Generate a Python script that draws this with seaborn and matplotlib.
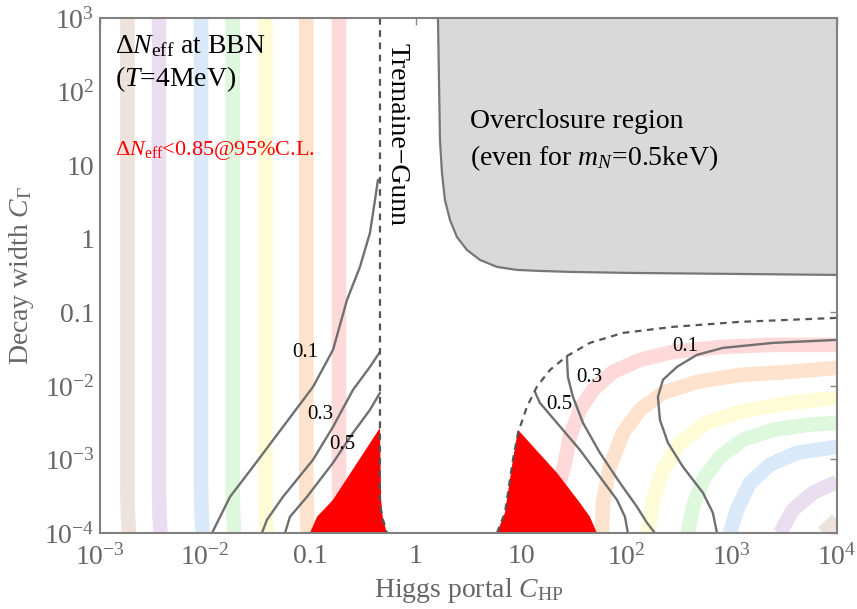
import numpy as np
import pandas as pd
import matplotlib
matplotlib.use("Agg")
import matplotlib.pyplot as plt
import seaborn as sns

# ---------------- data (log10 of C_HP, log10 of C_Gamma) ----------------
# vertical pastel bands on the left (log10 C_HP centre)
left_band_logx = [-2.74, -2.44, -2.04, -1.74, -1.43, -1.04, -0.73]
band_colors = ["#EEE2DC", "#EBDDF0", "#D9E9F9", "#DDF8DD", "#FDFCD6", "#FDE3CD", "#FDD9D9"]
# curved pastel bands on the right
right_bands = {
    "red":    ([1.254, 1.321, 1.416, 1.463, 1.558, 1.682, 1.872, 2.128, 2.442, 2.916, 3.391, 4.0],
               [-4.0, -3.549, -3.046, -2.693, -2.326, -2.054, -1.810, -1.647, -1.538, -1.470, -1.443, -1.443]),
    "orange": ([1.767, 1.777, 1.843, 1.967, 2.128, 2.347, 2.669, 3.078, 3.553, 4.0],
               [-4.0, -3.590, -3.10, -2.639, -2.326, -2.095, -1.946, -1.851, -1.810, -1.755]),
    "yellow": ([2.204, 2.252, 2.347, 2.508, 2.764, 3.078, 3.553, 4.0],
               [-4.0, -3.549, -3.141, -2.774, -2.503, -2.353, -2.231, -2.163]),
    "green":  ([2.584, 2.631, 2.727, 2.888, 3.106, 3.391, 3.714, 4.0],
               [-4.0, -3.644, -3.277, -2.965, -2.734, -2.598, -2.530, -2.503]),
    "blue":   ([2.983, 3.049, 3.173, 3.363, 3.619, 4.0],
               [-4.0, -3.685, -3.318, -3.073, -2.910, -2.829]),
    "purple": ([3.458, 3.581, 3.771, 4.0],
               [-4.0, -3.685, -3.454, -3.304]),
    "brown":  ([3.866, 4.0],
               [-4.0, -3.82]),
}
right_band_colors = {"red": "#FDD9D9", "orange": "#FDE3CD", "yellow": "#FDFCD6",
                     "green": "#DDF8DD", "blue": "#D9E9F9", "purple": "#EBDDF0",
                     "brown": "#EEE2DC"}

# Delta N_eff contours, left branch
c01_left = ([-1.936, -1.765, -1.547, -1.262, -0.977, -0.787, -0.654, -0.531, -0.436, -0.388, -0.360],
            [-4.0, -3.508, -3.10, -2.557, -2.014, -1.511, -0.832, -0.383, 0.079, 0.527, 0.80])
c03_left = ([-1.462, -1.414, -1.262, -0.977, -0.787, -0.597, -0.436, -0.341],
            [-4.0, -3.82, -3.508, -3.005, -2.557, -2.054, -1.742, -1.538])
c05_left = ([-1.243, -1.196, -1.034, -0.787, -0.597, -0.436, -0.341],
            [-4.0, -3.78, -3.508, -3.046, -2.639, -2.326, -2.095])
# right branch
c05_right = ([1.131, 1.178, 1.340, 1.558, 1.748, 1.910, 1.986, 2.014],
             [-2.082, -2.231, -2.503, -2.870, -3.236, -3.549, -3.780, -4.0])
c03_right = ([1.435, 1.444, 1.492, 1.587, 1.748, 1.938, 2.100, 2.195, 2.271],
             [-1.606, -1.878, -2.149, -2.503, -2.910, -3.318, -3.644, -3.861, -4.0])
c01_right = ([4.0, 3.391, 2.916, 2.669, 2.480, 2.347, 2.299, 2.318, 2.394, 2.537, 2.727, 2.821, 2.860],
             [-1.375, -1.416, -1.484, -1.579, -1.742, -1.918, -2.149, -2.462, -2.774, -3.101, -3.454, -3.726, -4.0])
contour_labels = ["0.1", "0.3", "0.5", "0.1", "0.3", "0.5"]
contour_label_logx = [-1.053, -0.911, -0.702, 2.556, 1.644, 1.359]
contour_label_logy = [-1.552, -2.394, -2.802, -1.470, -1.891, -2.258]

# Tremaine-Gunn boundaries (dashed)
tg_left = ([-0.341, -0.341, -0.330, -0.312, -0.274],
           [3.0, -3.55, -3.70, -3.82, -4.0])
tg_right = ([0.770, 0.846, 0.922, 0.970, 1.055, 1.150, 1.274, 1.435, 1.653, 1.967, 2.442, 3.078, 4.0],
            [-4.0, -3.726, -3.005, -2.639, -2.285, -2.010, -1.783, -1.595, -1.416, -1.280, -1.198, -1.130, -1.076])

# allowed (Delta N_eff < 0.85) red regions
red_left = ([-1.006, -0.939, -0.787, -0.341, -0.330, -0.312, -0.274],
            [-4.0, -3.78, -3.549, -2.571, -3.549, -3.82, -4.0])
red_right = ([0.770, 0.846, 0.922, 0.970, 1.340, 1.558, 1.653, 1.720],
             [-4.0, -3.726, -3.005, -2.598, -3.182, -3.590, -3.780, -4.0])

# overclosure region boundary
overclosure = ([0.210, 0.229, 0.248, 0.276, 0.324, 0.390, 0.485, 0.609, 0.770, 0.960, 1.178, 1.463, 2.033, 2.983, 4.0],
               [3.0, 1.342, 0.894, 0.527, 0.255, 0.024, -0.152, -0.288, -0.383, -0.424, -0.438, -0.451, -0.465, -0.478, -0.492])

x_ticks = [1e-3, 1e-2, 0.1, 1, 10, 1e2, 1e3, 1e4]
x_ticklabels = [r"$10^{-3}$", r"$10^{-2}$", "0.1", "1", "10", r"$10^{2}$", r"$10^{3}$", r"$10^{4}$"]
y_ticks = [1e-4, 1e-3, 1e-2, 0.1, 1, 10, 1e2, 1e3]
y_ticklabels = [r"$10^{-4}$", r"$10^{-3}$", r"$10^{-2}$", "0.1", "1", "10", r"$10^{2}$", r"$10^{3}$"]

# ---------------- style ----------------
sns.set_style("white")
plt.rcParams["font.family"] = ["Liberation Serif", "DejaVu Serif"]
plt.rcParams["mathtext.fontset"] = "custom"
plt.rcParams["mathtext.rm"] = "Liberation Serif"
plt.rcParams["mathtext.it"] = "Liberation Serif:italic"
plt.rcParams["mathtext.bf"] = "Liberation Serif:bold"
plt.rcParams["text.color"] = "black"

GRAY = "#666666"
LINE = "#707070"

fig = plt.figure(figsize=(8.57, 6.09), dpi=100)
ax = fig.add_axes([100 / 857, 1 - 533 / 609, 737 / 857, 515 / 609])
ax.set_xscale("log")
ax.set_yscale("log")
ax.set_xlim(1e-3, 1e4)
ax.set_ylim(1e-4, 1e3)

P = lambda a: np.power(10.0, np.asarray(a, dtype=float))

def curve(xy, **kw):
    lx, ly = xy
    df = pd.DataFrame({"x": P(lx), "y": P(ly)})
    sns.lineplot(data=df, x="x", y="y", sort=False, estimator=None, ax=ax, **kw)

# left vertical bands
for lxc, col in zip(left_band_logx, band_colors):
    curve(([lxc, lxc, lxc + 0.005, lxc + 0.015], [3.0, -3.4, -3.75, -4.0]),
          color=col, lw=10.5, solid_capstyle="butt", solid_joinstyle="round", zorder=1)
# right curved bands
for name, xy in right_bands.items():
    curve(xy, color=right_band_colors[name], lw=10.5, solid_capstyle="butt",
          solid_joinstyle="round", zorder=1)

# overclosure region
ox, oy = P(overclosure[0]), P(overclosure[1])
poly_x = np.concatenate([ox, [1e4]])
poly_y = np.concatenate([oy, [1e3]])
ax.fill(poly_x, poly_y, color="#D9D9D9", zorder=2, lw=0)
curve(overclosure, color="#777777", lw=1.6, solid_joinstyle="round", zorder=3)

# red allowed regions
ax.fill(P(red_left[0]), P(red_left[1]), color="#FF0000", lw=0, zorder=4)
ax.fill(P(red_right[0]), P(red_right[1]), color="#FF0000", lw=0, zorder=4)

# contours
for c in [c01_left, c03_left, c05_left, c05_right, c03_right, c01_right]:
    curve(c, color=LINE, lw=1.7, solid_joinstyle="round", zorder=5)

# Tremaine-Gunn dashed lines
for c in [tg_left, tg_right]:
    curve(c, color="#555555", lw=1.6, dashes=(3, 2.5), zorder=6)

for lab, lx, ly in zip(contour_labels, contour_label_logx, contour_label_logy):
    ax.text(10 ** lx, 10 ** ly, lab, fontsize=15, ha="center", va="center", zorder=7)

# annotations
ax.text((115 - 100) / 737, (533 - 53) / 515, r"$\Delta N_{\rm eff}$ at BBN", transform=ax.transAxes,
        fontsize=20, ha="left", va="baseline", zorder=8)
ax.text((115 - 100) / 737, (533 - 86) / 515, r"($T$=4MeV)", transform=ax.transAxes,
        fontsize=20, ha="left", va="baseline", zorder=8)
ax.text((115 - 100) / 737, (533 - 155) / 515, r"$\Delta N_{\rm eff}$<0.85@95%C.L.", transform=ax.transAxes,
        fontsize=16, ha="left", va="baseline", color="#FF0000", zorder=8)
ax.text((397 - 100) / 737, (533 - 43) / 515, "Tremaine\u2212Gunn", transform=ax.transAxes,
        fontsize=20, ha="center", va="top", rotation=-90, zorder=8)
ax.text((470 - 100) / 737, (533 - 128) / 515, "Overclosure region", transform=ax.transAxes,
        fontsize=20, ha="left", va="baseline", zorder=8)
ax.text((470 - 100) / 737, (533 - 165) / 515, r"(even for $m_N$=0.5keV)", transform=ax.transAxes,
        fontsize=20, ha="left", va="baseline", zorder=8)

# axes cosmetics
ax.set_xticks(x_ticks)
ax.set_xticklabels(x_ticklabels)
ax.set_yticks(y_ticks)
ax.set_yticklabels(y_ticklabels)
ax.minorticks_off()
ax.tick_params(axis="both", which="major", direction="in", length=5, width=1, color="#888888",
               labelsize=20, labelcolor=GRAY, top=True, right=True, pad=4)
ax.tick_params(axis="x", pad=8)
for s in ax.spines.values():
    s.set_color("#808080")
    s.set_linewidth(1.5)
    s.set_zorder(10)
ax.set_xlabel(r"Higgs portal $C_{\rm HP}$", fontsize=20, color=GRAY, labelpad=4)
ax.set_ylabel(r"Decay width $C_\Gamma$", fontsize=20, color=GRAY, labelpad=6)

fig.savefig("out.png", dpi=100)
